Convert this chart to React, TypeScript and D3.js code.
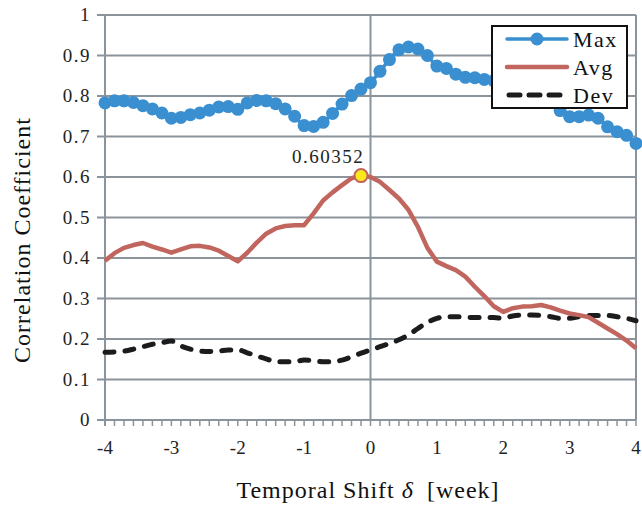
import React from 'react';
import * as d3 from 'd3';

// shift in weeks, one point per day
const shifts = d3.range(57).map(i => -4 + i / 7);

const maxVals = [
  0.783, 0.788, 0.788, 0.784, 0.776, 0.768, 0.758, 0.745, 0.747, 0.754,
  0.758, 0.765, 0.773, 0.774, 0.767, 0.783, 0.789, 0.788, 0.781, 0.768,
  0.750, 0.727, 0.725, 0.735, 0.757, 0.780, 0.801, 0.817, 0.833, 0.861,
  0.890, 0.914, 0.921, 0.916, 0.900, 0.874, 0.868, 0.854, 0.846, 0.845,
  0.841, 0.838, 0.834, 0.828, 0.820, 0.810, 0.800, 0.785, 0.764, 0.749,
  0.749, 0.753, 0.745, 0.724, 0.712, 0.703, 0.683,
];

const avgVals = [
  0.393, 0.412, 0.425, 0.432, 0.437, 0.428, 0.421, 0.413, 0.421, 0.429,
  0.430, 0.426, 0.418, 0.405, 0.392, 0.413, 0.438, 0.460, 0.473, 0.479,
  0.481, 0.481, 0.510, 0.542, 0.562, 0.580, 0.597, 0.60352, 0.600, 0.588,
  0.568, 0.547, 0.519, 0.477, 0.425, 0.391, 0.380, 0.370, 0.354, 0.329,
  0.306, 0.281, 0.267, 0.276, 0.280, 0.281, 0.284, 0.278, 0.270, 0.263,
  0.259, 0.254, 0.240, 0.226, 0.212, 0.196, 0.177,
];

const devVals = [
  0.167, 0.168, 0.170, 0.175, 0.181, 0.187, 0.191, 0.195, 0.183, 0.175,
  0.170, 0.169, 0.170, 0.173, 0.173, 0.166, 0.158, 0.151, 0.144, 0.144,
  0.144, 0.148, 0.146, 0.144, 0.144, 0.148, 0.156, 0.165, 0.173, 0.181,
  0.189, 0.198, 0.210, 0.226, 0.241, 0.251, 0.255, 0.255, 0.254, 0.253,
  0.253, 0.253, 0.251, 0.257, 0.259, 0.259, 0.258, 0.255, 0.251, 0.251,
  0.255, 0.258, 0.258, 0.258, 0.255, 0.251, 0.245,
];

const xTickVals = [-4, -3, -2, -1, 0, 1, 2, 3, 4];
const yTickVals = [0, 0.1, 0.2, 0.3, 0.4, 0.5, 0.6, 0.7, 0.8, 0.9, 1];
const peakIndex = 27;
const peakLabel = '0.60352';

const legendItems = ['Max', 'Avg', 'Dev'];

const serif = 'Liberation Serif, Times New Roman, serif';
const gridColor = '#8c949b';
const blue = '#3a8fd0';
const red = '#c1665e';
const black = '#1c1c1c';

export default function App() {
  const width = 642;
  const height = 506;
  const left = 105, right = 636, top = 15, bottom = 420;

  const x = d3.scaleLinear().domain([-4, 4]).range([left, right]);
  const y = d3.scaleLinear().domain([0, 1]).range([bottom, top]);

  const line = (vals: number[], curve = d3.curveLinear) =>
    d3.line<number>()
      .x((_, i) => x(shifts[i]))
      .y(d => y(d))
      .curve(curve)(vals) as string;

  return (
    <svg width={width} height={height}
      style={{ position: 'absolute', left: 0, top: 0, background: '#fff', fontFamily: serif }}>
      {/* grid */}
      <g>
        {yTickVals.map(t => (
          <line key={t} x1={left - 8} x2={right} y1={y(t)} y2={y(t)} stroke={gridColor} strokeWidth={2} />
        ))}
        <line x1={x(0)} x2={x(0)} y1={top} y2={bottom} stroke={gridColor} strokeWidth={2} />
        <line x1={right} x2={right} y1={top} y2={bottom} stroke={gridColor} strokeWidth={2} />
        <line x1={left} x2={left} y1={top} y2={bottom + 6} stroke={gridColor} strokeWidth={2} />
        {shifts.map((s, i) => (
          <line key={i} x1={x(s)} x2={x(s)} y1={bottom} y2={bottom + 6} stroke={gridColor} strokeWidth={1.5} />
        ))}
      </g>

      {/* y labels */}
      {yTickVals.map(t => (
        <text key={t} x={91} y={y(t) + 6} textAnchor="end" fontSize={19} letterSpacing={1.5} fill="#222">
          {t === 0 || t === 1 ? String(t) : t.toFixed(1)}
        </text>
      ))}
      {/* x labels */}
      {xTickVals.map(t => (
        <text key={t} x={x(t)} y={454} textAnchor="middle" fontSize={19} fill="#222">
          {t}
        </text>
      ))}

      {/* series */}
      <path d={line(devVals, d3.curveMonotoneX)} fill="none" stroke={black} strokeWidth={5}
        strokeDasharray="9 11" strokeLinecap="round" />
      <path d={line(avgVals)} fill="none" stroke={red} strokeWidth={4.5} strokeLinejoin="round" />
      <path d={line(maxVals, d3.curveMonotoneX)} fill="none" stroke={blue} strokeWidth={3.5} />
      <g fill={blue}>
        {maxVals.map((v, i) => (
          <circle key={i} cx={x(shifts[i])} cy={y(v)} r={6.5} />
        ))}
      </g>

      {/* peak marker */}
      <circle cx={x(shifts[peakIndex])} cy={y(avgVals[peakIndex])} r={6.5} fill="#f8e81c" stroke={red} strokeWidth={2} />
      <text x={x(shifts[peakIndex]) - 33} y={163} textAnchor="middle" fontSize={19} letterSpacing={1.5} fill="#222">
        {peakLabel}
      </text>

      {/* legend */}
      <g transform="translate(492,26)">
        <rect x={0} y={0} width={135} height={82} fill="#fff" stroke="#111" strokeWidth={2} />
        {legendItems.map((name, i) => {
          const ly = 13 + i * 28;
          return (
            <g key={name}>
              {name === 'Max' && (
                <>
                  <line x1={15} x2={75} y1={ly} y2={ly} stroke={blue} strokeWidth={3.5} strokeLinecap="round" />
                  <circle cx={45} cy={ly} r={6.5} fill={blue} />
                </>
              )}
              {name === 'Avg' && (
                <line x1={15} x2={75} y1={ly} y2={ly} stroke={red} strokeWidth={4.5} strokeLinecap="round" />
              )}
              {name === 'Dev' && (
                <line x1={17} x2={75} y1={ly} y2={ly} stroke={black} strokeWidth={5} strokeDasharray="11 9" strokeLinecap="round" />
              )}
              <text x={81} y={ly + 8} fontSize={22} letterSpacing={1.5} fill="#111">{name}</text>
            </g>
          );
        })}
      </g>

      {/* axis titles */}
      <text transform={`translate(30,240) rotate(-90)`} textAnchor="middle" fontSize={24} letterSpacing={1} fill="#111">
        Correlation Coefficient
      </text>
      <text x={368} y={498} textAnchor="middle" fontSize={24} letterSpacing={1} fill="#111">
        Temporal Shift <tspan fontStyle="italic">δ</tspan>{'\u2002'}[week]
      </text>
    </svg>
  );
}
